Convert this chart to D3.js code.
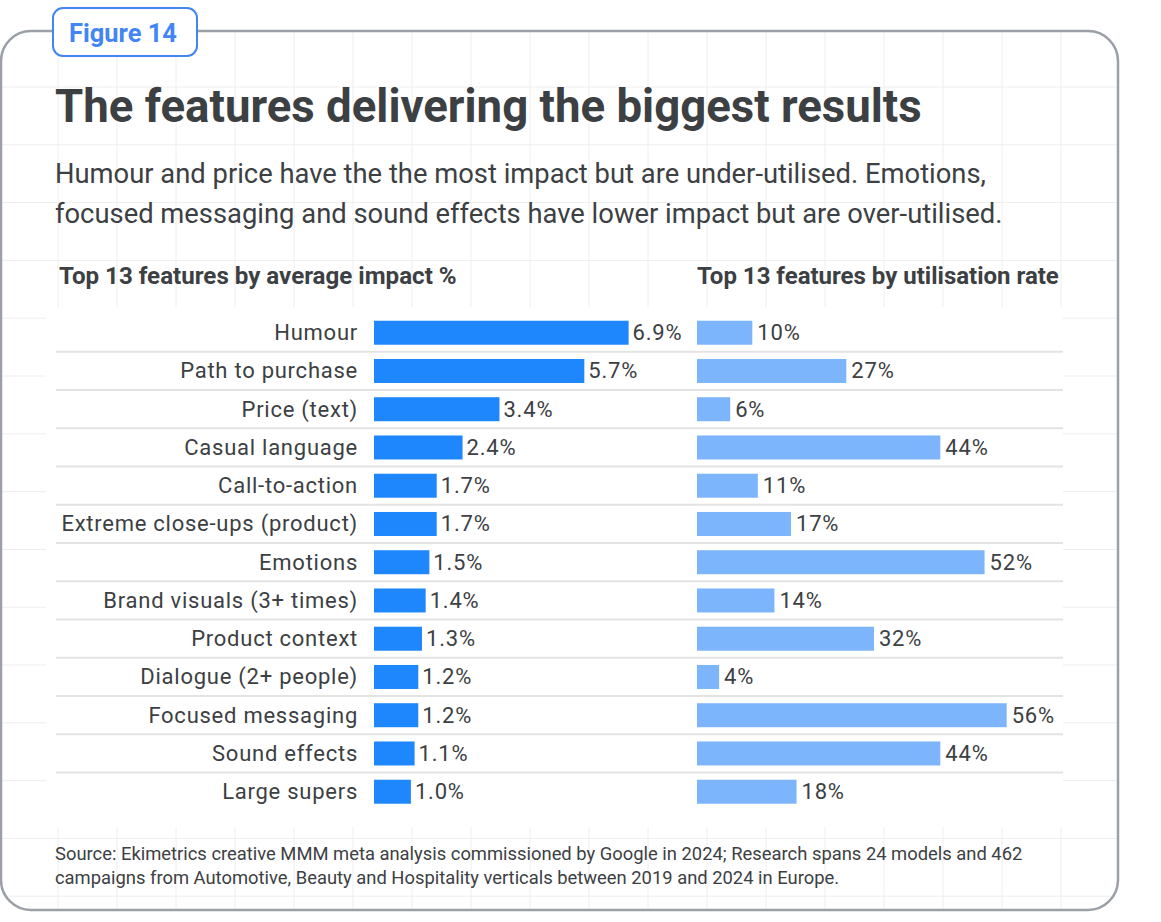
<!DOCTYPE html>
<html>
<head>
<meta charset="utf-8">
<script src="https://cdn.jsdelivr.net/npm/d3@7"></script>
<style>
  html, body { margin: 0; padding: 0; background: #fff; }
  svg { display: block; font-family: Roboto, "Noto Sans", sans-serif; }
</style>
</head>
<body>
<svg id="chart" width="1161" height="922"></svg>
<script>
const features = [
  'Humour', 'Path to purchase', 'Price (text)', 'Casual language', 'Call-to-action',
  'Extreme close-ups (product)', 'Emotions', 'Brand visuals (3+ times)', 'Product context',
  'Dialogue (2+ people)', 'Focused messaging', 'Sound effects', 'Large supers'
];
const impact = [6.9, 5.7, 3.4, 2.4, 1.7, 1.7, 1.5, 1.4, 1.3, 1.2, 1.2, 1.1, 1.0];
const utilisation = [10, 27, 6, 44, 11, 17, 52, 14, 32, 4, 56, 44, 18];

const figureLabel = 'Figure 14';
const title = 'The features delivering the biggest results';
const subtitle = [
  'Humour and price have the the most impact but are under-utilised. Emotions,',
  'focused messaging and sound effects have lower impact but are over-utilised.'
];
const headers = ['Top 13 features by average impact %', 'Top 13 features by utilisation rate'];
const source = [
  'Source: Ekimetrics creative MMM meta analysis commissioned by Google in 2024; Research spans 24 models and 462',
  'campaigns from Automotive, Beauty and Hospitality verticals between 2019 and 2024 in Europe.'
];

const ink = '#3c4043';
const svg = d3.select('#chart');

// size a text so it spans the given width
const fit = (sel, width) => {
  sel.attr('font-size', 20);
  const len = sel.node().getComputedTextLength();
  const size = 20 * width / len;
  sel.attr('font-size', size);
  return size;
};

// card + faint grid
const card = { x: 1, y: 31, w: 1117, h: 879, r: 30 };
svg.append('clipPath').attr('id', 'cardClip')
  .append('rect')
  .attr('x', card.x).attr('y', card.y).attr('width', card.w).attr('height', card.h).attr('rx', card.r);

const grid = svg.append('g').attr('clip-path', 'url(#cardClip)')
  .attr('stroke', '#eeeeee').attr('stroke-width', 1);
grid.selectAll('line.v')
  .data(d3.range(58, 1118, 59))
  .enter().append('line')
  .attr('class', 'v')
  .attr('x1', d => d).attr('x2', d => d).attr('y1', 0).attr('y2', 922);
grid.selectAll('line.h')
  .data(d3.range(87, 910, 57.8))
  .enter().append('line')
  .attr('class', 'h')
  .attr('x1', 0).attr('x2', 1161).attr('y1', d => d).attr('y2', d => d);

svg.append('rect')
  .attr('x', card.x).attr('y', card.y).attr('width', card.w).attr('height', card.h).attr('rx', card.r)
  .attr('fill', 'none').attr('stroke', '#9aa0a6').attr('stroke-width', 2.5);

// badge
svg.append('rect')
  .attr('x', 53).attr('y', 8).attr('width', 144).attr('height', 48).attr('rx', 10)
  .attr('fill', '#fff').attr('stroke', '#4285f4').attr('stroke-width', 2);
fit(svg.append('text')
  .attr('x', 123).attr('y', 42).attr('text-anchor', 'middle')
  .attr('font-weight', 700).attr('fill', '#4285f4')
  .text(figureLabel), 108);

// title + subtitle
fit(svg.append('text')
  .attr('x', 55).attr('y', 122).attr('font-weight', 700).attr('fill', ink)
  .text(title), 867);

const sub = svg.append('g').attr('fill', ink);
const subSize = fit(sub.append('text').attr('x', 55).attr('y', 183).text(subtitle[0]), 931);
sub.append('text').attr('x', 55).attr('y', 223).attr('font-size', subSize).text(subtitle[1]);

// column headers
fit(svg.append('text').attr('x', 59).attr('y', 284).attr('font-weight', 700).attr('fill', ink)
  .text(headers[0]), 398);
fit(svg.append('text').attr('x', 697).attr('y', 284).attr('font-weight', 700).attr('fill', ink)
  .text(headers[1]), 362);

// chart panel
svg.append('rect')
  .attr('x', 46).attr('y', 307).attr('width', 1017).attr('height', 520)
  .attr('fill', '#fff');

const step = 38.25;
const rowTop = 313.6;
const barH = 24;

const y = d3.scaleBand()
  .domain(features)
  .range([rowTop, rowTop + step * features.length]);

const xImpact = d3.scaleLinear().domain([0, 10]).range([374, 743]);
const xUtil = d3.scaleLinear().domain([0, 100]).range([697, 1250]);

const rows = features.map((f, i) => ({ feature: f, impact: impact[i], util: utilisation[i] }));

// row separators
svg.append('g')
  .selectAll('line')
  .data(rows.slice(1))
  .enter().append('line')
  .attr('x1', 56).attr('x2', 1063)
  .attr('y1', d => y(d.feature)).attr('y2', d => y(d.feature))
  .attr('stroke', '#e3e3e3').attr('stroke-width', 2);

const barY = d => y(d.feature) + (y.bandwidth() - barH) / 2;
const midY = d => y(d.feature) + y.bandwidth() / 2;

// category labels
svg.append('g')
  .selectAll('text')
  .data(rows)
  .enter().append('text')
  .attr('x', 358).attr('y', midY).attr('dy', '0.34em')
  .attr('text-anchor', 'end').attr('font-size', 22).attr('letter-spacing', 0.75).attr('fill', ink)
  .text(d => d.feature);

// impact bars
svg.append('g')
  .selectAll('rect')
  .data(rows)
  .enter().append('rect')
  .attr('x', xImpact(0)).attr('y', barY)
  .attr('width', d => xImpact(d.impact) - xImpact(0)).attr('height', barH)
  .attr('fill', '#1e87fd');

svg.append('g')
  .selectAll('text')
  .data(rows)
  .enter().append('text')
  .attr('x', d => xImpact(d.impact) + 4).attr('y', midY).attr('dy', '0.34em')
  .attr('font-size', 22).attr('letter-spacing', 0.8).attr('fill', ink)
  .text(d => d3.format('.1f')(d.impact) + '%');

// utilisation bars
svg.append('g')
  .selectAll('rect')
  .data(rows)
  .enter().append('rect')
  .attr('x', xUtil(0)).attr('y', barY)
  .attr('width', d => xUtil(d.util) - xUtil(0)).attr('height', barH)
  .attr('fill', '#7cb5fb');

svg.append('g')
  .selectAll('text')
  .data(rows)
  .enter().append('text')
  .attr('x', d => xUtil(d.util) + 5).attr('y', midY).attr('dy', '0.34em')
  .attr('font-size', 22).attr('letter-spacing', 0.8).attr('fill', ink)
  .text(d => d.util + '%');

// source
const src = svg.append('g').attr('fill', ink);
const srcSize = fit(src.append('text').attr('x', 55).attr('y', 860).text(source[0]), 968);
src.append('text').attr('x', 55).attr('y', 884).attr('font-size', srcSize).text(source[1]);
</script>
</body>
</html>
